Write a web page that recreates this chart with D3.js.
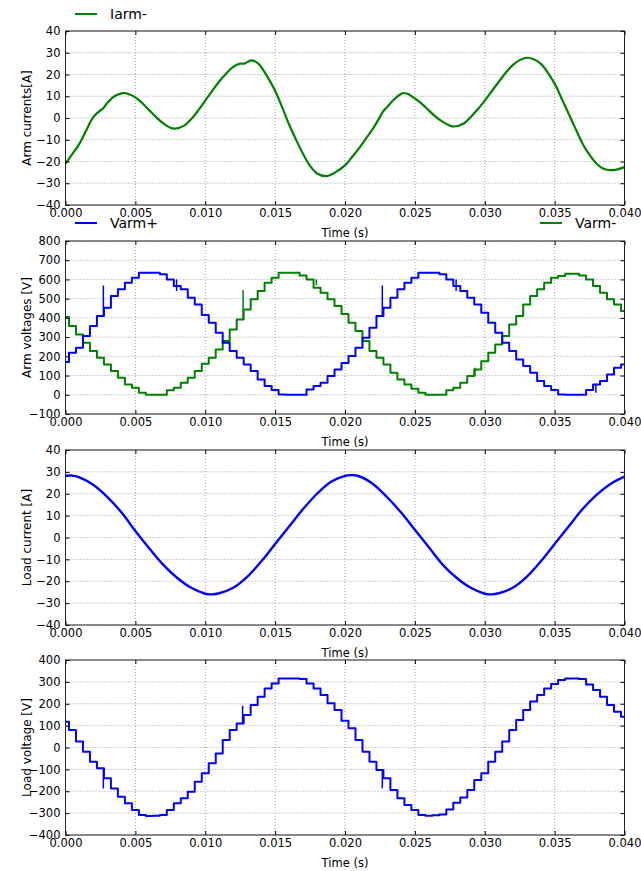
<!DOCTYPE html>
<html><head><meta charset="utf-8">
<script src="https://cdn.jsdelivr.net/npm/d3@7"></script>
<style>
body{margin:0;background:#fff}
svg{display:block}
text{font-family:"DejaVu Sans",sans-serif;fill:#000}
</style>
</head><body>
<svg id="chart" width="641" height="871"></svg>
<script>
// ---------- DATA ----------
const xTickValues = [0, 0.005, 0.010, 0.015, 0.020, 0.025, 0.030, 0.035, 0.040];

// Panel 1: arm current Iarm- (ms, A)
const iarmTimeMs = [0,0.5,1,1.5,2,2.5,2.7,3,3.5,4,4.2,4.5,5,5.5,6,6.5,7,7.5,7.8,8.5,9,9.5,10,10.5,11,11.5,12,12.5,12.8,13.3,13.8,14.3,15,15.5,16,16.5,17,17.5,18,18.7,19.3,20,20.5,21,21.5,22,22.5,22.7,23,23.5,24,24.2,24.5,25,25.5,26,26.5,27,27.5,27.8,28.5,29,29.5,30,30.5,31,31.5,32,32.5,33,33.5,34,34.5,35,35.5,36,36.5,37,37.5,38,38.5,39,39.5,40];
const iarmMinus = [-21,-16.5,-11.8,-5.5,0.5,3.5,4.5,7,10,11.3,11.5,11,9.5,6.8,3.5,0.3,-2.5,-4.5,-4.9,-3.5,-0.5,3.5,8,12.5,16.8,20.5,23.5,25,25,26.5,25,20.5,12.5,5,-3,-10,-16.5,-22,-25.5,-26.7,-25,-21.8,-18,-14,-9.5,-4.9,0.5,2.8,5,8.5,11,11.5,11,9,6.5,3.5,0.5,-1.8,-3.5,-3.9,-2.5,0.5,4,8,12.3,16.6,20.8,24.3,26.6,27.7,27,25,21,15.8,9,2,-5,-11.8,-17,-21,-23.3,-24,-23.6,-22.6];

// Panels 2 and 4: sampled every 0.5 ms
const voltTimeMs = [0,0.5,1,1.5,2,2.5,3,3.5,4,4.5,5,5.5,6,6.5,7,7.5,8,8.5,9,9.5,10,10.5,11,11.5,12,12.5,13,13.5,14,14.5,15,15.5,16,16.5,17,17.5,18,18.5,19,19.5,20,20.5,21,21.5,22,22.5,23,23.5,24,24.5,25,25.5,26,26.5,27,27.5,28,28.5,29,29.5,30,30.5,31,31.5,32,32.5,33,33.5,34,34.5,35,35.5,36,36.5,37,37.5,38,38.5,39,39.5,40];
const varmPlus = [170,219,245,306,358,410,453,514,549,583,609,635,635,635,627,600,566,549,505,470,415,375,323,271,228,193,158,124,80,46,25,2,0,0,0,28,46,63,98,132,165,202,245,297,349,410,453,505,549,583,609,635,635,635,627,600,566,540,505,470,427,375,323,271,228,184,150,115,72,46,25,2,0,0,0,25,54,72,106,141,158];
const varmMinus = [405,358,314,271,228,193,158,124,89,54,37,11,0,0,0,23,37,63,89,124,162,193,236,280,340,392,444,497,540,583,609,635,635,635,621,600,557,531,497,462,420,375,332,280,228,193,158,115,80,54,31,11,0,0,0,23,37,63,98,132,175,219,262,306,366,410,470,514,549,583,609,618,630,630,621,600,566,531,497,470,436];
// transient spikes: [time ms, base value, peak value]
const varmPlusSpikes = [[2.71,410,569],[7.95,600,540],[22.67,410,569],[27.95,600,540],[37.95,54,11]];
const varmMinusSpikes = [[12.71,392,545],[17.95,600,570],[29.3,98,140]];

// Panel 3: load current (ms, A)
const loadCurrentTimeMs = [0,0.5,1,2,3,4,5,6,7,8,9,10,10.5,11,12,13,14,15,16,17,18,19,20,20.5,21,22,23,24,25,26,27,28,29,30,30.5,31,32,33,34,35,36,37,38,39,40];
const loadCurrent = [28.2,28.3,27.5,24,18.5,11.5,3,-5,-12.5,-18.5,-23,-25.7,-26,-25.5,-23,-18,-11,-3,5,13,20,25.5,28.2,28.5,28,24.5,18.5,11.5,3.5,-4.5,-12.5,-18.5,-23,-25.7,-26,-25.5,-23,-18,-11,-3,5,13,19.5,24.5,27.8];

// Panel 4: load voltage (V)
const loadVoltage = [118,80,27,-19,-65,-95,-141,-187,-225,-255,-286,-309,-313,-312,-309,-286,-255,-232,-202,-156,-118,-72,-27,34,80,110,149,194,232,270,293,316,316,316,313,293,270,240,202,171,122,88,34,-19,-65,-103,-141,-194,-232,-263,-286,-309,-312,-310,-306,-283,-252,-229,-194,-149,-118,-65,-19,27,80,126,171,210,240,270,290,309,316,316,313,288,263,232,194,164,141];
const loadVoltageSpikes = [[2.71,-95,-187],[12.67,110,191],[22.67,-103,-187]];

// y ticks
const yTicksCurrent = [-40,-30,-20,-10,0,10,20,30,40];
const yTicksArmV = [-100,0,100,200,300,400,500,600,700,800];
const yTicksLoadV = [-400,-300,-200,-100,0,100,200,300,400];

// ---------- DRAW ----------
const GREEN = "#008000", BLUE = "#0000ff";
const svg = d3.select("#chart");
const left = 65.5, right = 624.5;
const x = d3.scaleLinear().domain([0, 0.04]).range([left, right]);
const fmtX = d3.format(".3f");
const fmtY = d => (d < 0 ? "\u2212" + Math.abs(d) : "" + d);

function zip(tMs, v) { return tMs.map((t, i) => [t / 1000, v[i]]); }

function panel(cfg) {
  const y = d3.scaleLinear().domain(cfg.yDomain).range([cfg.bottom, cfg.top]);
  const g = svg.append("g");
  // grid
  g.selectAll(".gx").data(xTickValues).join("line")
    .attr("x1", d => x(d)).attr("x2", d => x(d))
    .attr("y1", cfg.top).attr("y2", cfg.bottom)
    .attr("stroke", "#888").attr("stroke-width", 0.8).attr("stroke-dasharray", "1,2");
  g.selectAll(".gy").data(cfg.yTicks).join("line")
    .attr("x1", left).attr("x2", right)
    .attr("y1", d => y(d)).attr("y2", d => y(d))
    .attr("stroke", "#888").attr("stroke-width", 0.8).attr("stroke-dasharray", "1,2");

  // series
  const clipId = "clip" + cfg.top;
  svg.append("clipPath").attr("id", clipId).append("rect")
    .attr("x", left).attr("y", cfg.top - 1).attr("width", right - left).attr("height", cfg.bottom - cfg.top + 2);
  const sg = g.append("g").attr("clip-path", `url(#${clipId})`);
  cfg.series.forEach(s => {
    const line = d3.line().x(d => x(d[0])).y(d => y(d[1])).curve(s.curve);
    sg.append("path").datum(s.data).attr("d", line)
      .attr("fill", "none").attr("stroke", s.color).attr("stroke-width", s.width || 2)
      .attr("stroke-linejoin", "round");
    (s.spikes || []).forEach(sp => {
      sg.append("line")
        .attr("x1", x(sp[0] / 1000)).attr("x2", x(sp[0] / 1000))
        .attr("y1", y(sp[1])).attr("y2", y(sp[2]))
        .attr("stroke", s.color).attr("stroke-width", 1.5);
    });
  });

  // axes with inward ticks
  const ax = g.append("g");
  ax.append("g").attr("transform", `translate(0,${cfg.bottom})`)
    .call(d3.axisBottom(x).tickValues(xTickValues).tickFormat(fmtX).tickSizeInner(-4).tickSizeOuter(0).tickPadding(4));
  ax.append("g").attr("transform", `translate(0,${cfg.top})`)
    .call(d3.axisTop(x).tickValues(xTickValues).tickFormat("").tickSizeInner(-4).tickSizeOuter(0));
  ax.append("g").attr("transform", `translate(${left},0)`)
    .call(d3.axisLeft(y).tickValues(cfg.yTicks).tickFormat(fmtY).tickSizeInner(-4).tickSizeOuter(0).tickPadding(5));
  ax.append("g").attr("transform", `translate(${right},0)`)
    .call(d3.axisRight(y).tickValues(cfg.yTicks).tickFormat("").tickSizeInner(-4).tickSizeOuter(0));
  ax.selectAll(".domain").remove();
  ax.selectAll("text").attr("font-size", 11.5).attr("font-family", "DejaVu Sans");
  ax.selectAll(".tick line").attr("stroke", "#000");
  g.append("rect").attr("x", left).attr("y", cfg.top)
    .attr("width", right - left).attr("height", cfg.bottom - cfg.top)
    .attr("fill", "none").attr("stroke", "#222").attr("stroke-width", 1);

  // labels
  g.append("text").attr("x", (left + right) / 2).attr("y", cfg.bottom + 32)
    .attr("text-anchor", "middle").attr("font-size", 11.5).text("Time (s)");
  g.append("text")
    .attr("transform", `translate(31,${(cfg.top + cfg.bottom) / 2}) rotate(-90)`)
    .attr("text-anchor", "middle").attr("font-size", 12).text(cfg.yLabel);
}

panel({
  top: 31, bottom: 205, yDomain: [-40, 40], yTicks: yTicksCurrent, yLabel: "Arm currents[A]",
  series: [{ data: zip(iarmTimeMs, iarmMinus), color: GREEN, curve: d3.curveCatmullRom, width: 2.2 }]
});
panel({
  top: 241, bottom: 414, yDomain: [-100, 800], yTicks: yTicksArmV, yLabel: "Arm voltages [V]",
  series: [
    { data: zip(voltTimeMs, varmMinus), color: GREEN, curve: d3.curveStep, spikes: varmMinusSpikes },
    { data: zip(voltTimeMs, varmPlus), color: BLUE, curve: d3.curveStep, spikes: varmPlusSpikes }
  ]
});
panel({
  top: 450, bottom: 625, yDomain: [-40, 40], yTicks: yTicksCurrent, yLabel: "Load current [A]",
  series: [{ data: zip(loadCurrentTimeMs, loadCurrent), color: BLUE, curve: d3.curveCatmullRom, width: 2.4 }]
});
panel({
  top: 660, bottom: 835, yDomain: [-400, 400], yTicks: yTicksLoadV, yLabel: "Load voltage [V]",
  series: [{ data: zip(voltTimeMs, loadVoltage), color: BLUE, curve: d3.curveStep, spikes: loadVoltageSpikes }]
});

// legends (drawn on top, no frame)
function legend(x0, yy, color, label) {
  svg.append("line").attr("x1", x0).attr("x2", x0 + 22).attr("y1", yy).attr("y2", yy)
    .attr("stroke", color).attr("stroke-width", 2);
  svg.append("text").attr("x", x0 + 35).attr("y", yy + 5).attr("font-size", 14).text(label);
}
legend(75, 14, GREEN, "Iarm-");
legend(75, 223, BLUE, "Varm+");
legend(540, 223, GREEN, "Varm-");
</script>
</body></html>
